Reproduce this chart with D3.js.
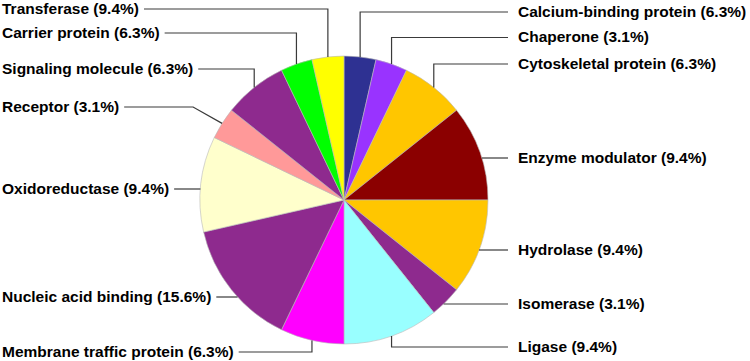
<!DOCTYPE html>
<html>
<head>
<meta charset="utf-8">
<script src="https://cdn.jsdelivr.net/npm/d3@7"></script>
<style>
  body { margin: 0; background: #fff; }
  text { font-family: "Liberation Sans", Arial, sans-serif; font-weight: bold; }
</style>
</head>
<body>
<svg id="chart"></svg>
<script>
// slice data, clockwise from 12 o'clock
const categories = ["Calcium-binding protein", "Chaperone", "Cytoskeletal protein", "Enzyme modulator",
  "Hydrolase", "Isomerase", "Ligase", "Membrane traffic protein", "Nucleic acid binding",
  "Oxidoreductase", "Receptor", "Signaling molecule", "Carrier protein", "Transferase"];
const counts = [1, 1, 2, 3, 3, 1, 3, 2, 4, 3, 1, 2, 1, 1];
const percentLabels = ["6.3%", "3.1%", "6.3%", "9.4%", "9.4%", "3.1%", "9.4%", "6.3%", "15.6%",
  "9.4%", "3.1%", "6.3%", "6.3%", "9.4%"];
const colors = ["#2e3192", "#9933ff", "#ffc600", "#8b0000", "#ffc600", "#8e2a8e", "#99ffff",
  "#ff00ff", "#8e2a8e", "#ffffcc", "#ff9999", "#8e2a8e", "#00ff00", "#ffff00"];

// label layout (y of each label, leader style)
const labelY = [12, 37.5, 64, 158, 250, 304, 347, 352, 297, 189, 107, 69, 33, 9];
const leaderStyle = ["v", "v", "v", "h", "h", "h", "v", "v", "h", "h", "d", "v", "v", "v"];

const width = 750, height = 361;
const cx = 344, cy = 200, radius = 144;
const fontSize = 15.5;

const svg = d3.select("#chart").attr("width", width).attr("height", height);

const pie = d3.pie().sort(null).value(d => d.count);
const arc = d3.arc().innerRadius(0).outerRadius(radius);

const data = categories.map((c, i) => ({
  name: c, count: counts[i], pct: percentLabels[i], color: colors[i],
  ly: labelY[i], style: leaderStyle[i]
}));
const arcs = pie(data);

const g = svg.append("g").attr("transform", `translate(${cx},${cy})`);

g.selectAll("path.slice")
  .data(arcs)
  .join("path")
    .attr("class", "slice")
    .attr("d", arc)
    .attr("fill", d => d.data.color)
    .attr("stroke", "#b8b8b8")
    .attr("stroke-width", 0.6);

// labels + leader lines
arcs.forEach(a => {
  const d = a.data;
  const mid = (a.startAngle + a.endAngle) / 2;
  const ax = cx + radius * Math.sin(mid);
  const ay = cy - radius * Math.cos(mid);
  const right = Math.sin(mid) > 0;

  const label = svg.append("text")
    .attr("y", d.ly)
    .attr("dy", "0.32em")
    .attr("font-size", fontSize)
    .attr("fill", "#000")
    .text(`${d.name} (${d.pct})`);

  let lineEnd;
  if (right) {
    label.attr("x", 518).attr("text-anchor", "start");
    lineEnd = 508;
  } else {
    label.attr("x", 2).attr("text-anchor", "start");
    const bb = label.node().getBBox();
    lineEnd = bb.x + bb.width + 5;
  }

  let pts;
  if (d.style === "v") {
    pts = [[ax, ay], [ax, d.ly], [lineEnd, d.ly]];
  } else if (d.style === "h") {
    const dy = d.ly - cy;
    const ex = cx + (right ? 1 : -1) * Math.sqrt(radius * radius - dy * dy);
    pts = [[ex, d.ly], [lineEnd, d.ly]];
  } else {
    pts = [[ax, ay], [ax - 29, d.ly], [lineEnd, d.ly]];
  }

  svg.append("path")
    .attr("d", d3.line()(pts))
    .attr("fill", "none")
    .attr("stroke", "#3a3a3a")
    .attr("stroke-width", 1.2);
});
</script>
</body>
</html>
